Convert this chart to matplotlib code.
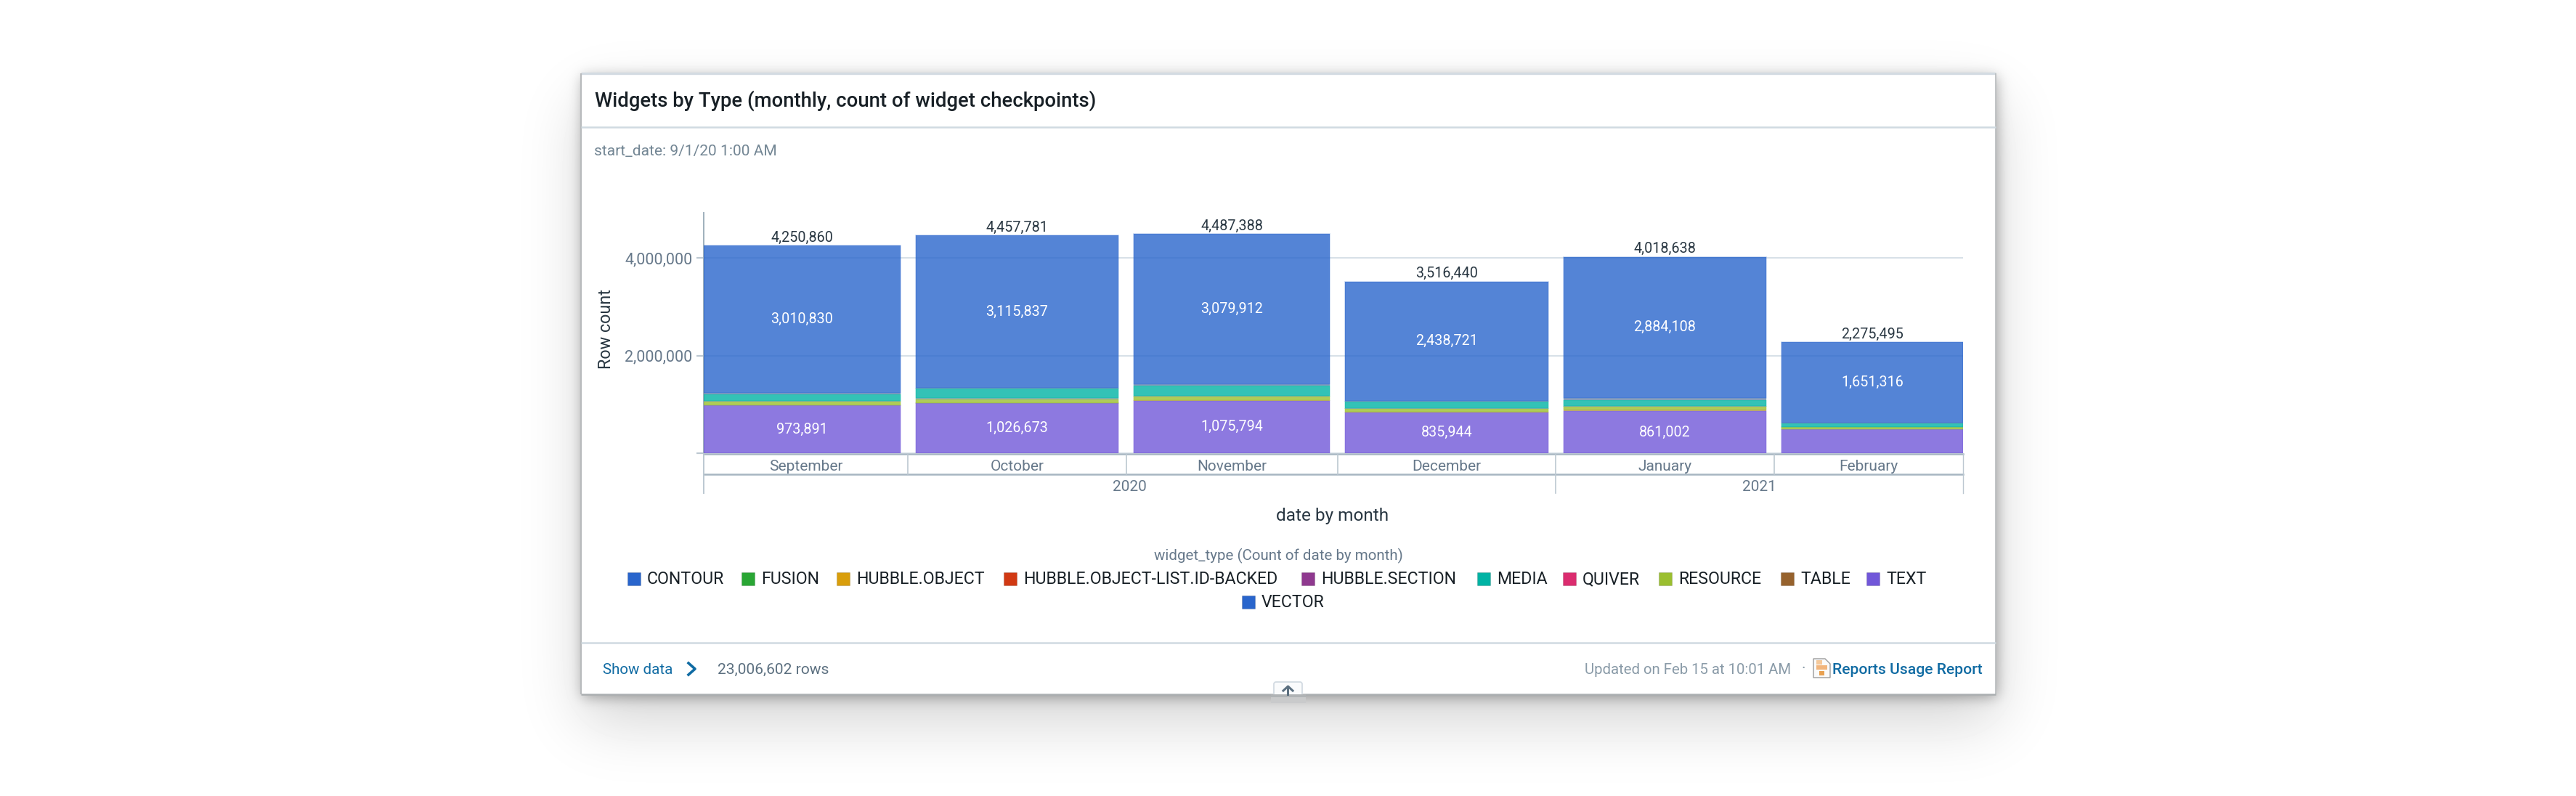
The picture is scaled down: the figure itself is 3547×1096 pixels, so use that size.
import math
import numpy as np
import pandas as pd
import matplotlib
matplotlib.use("Agg")
import matplotlib.pyplot as plt
import matplotlib.dates as mdates
import matplotlib.transforms as mtrans
from matplotlib.patches import Rectangle, Polygon, FancyBboxPatch
from matplotlib.colors import to_rgba

plt.rcParams['font.family'] = ['Roboto', 'DejaVu Sans']

# ---------- data ----------
months = ["September", "October", "November", "December", "January", "February"]
month_starts = ["2020-09-01", "2020-10-01", "2020-11-01", "2020-12-01", "2021-01-01", "2021-02-01", "2021-03-01"]
years = ["2020", "2021"]
year_bounds = ["2020-09-02 00:00", "2021-01-01 00:00", "2021-02-27 20:00"]

widget_types = ["CONTOUR", "FUSION", "HUBBLE.OBJECT", "HUBBLE.OBJECT-LIST.ID-BACKED", "HUBBLE.SECTION",
                "MEDIA", "QUIVER", "RESOURCE", "TABLE", "TEXT", "VECTOR"]
colors = ["#2965CC", "#29A634", "#D99E0B", "#D13913", "#8F398F", "#00B3A4",
          "#DB2C6F", "#9BBF30", "#96622D", "#7157D9", "#2965CC"]
# thin slivers read as muted grey bands where their neighbours' strokes overlap them
sliver_colors = {"HUBBLE.SECTION": "#6E8AAE", "QUIVER": "#7F9F9A", "TABLE": "#B09A50"}

contour = [3010830, 3115837, 3079912, 2438721, 2884108, 1651316]
fusion = [500, 500, 600, 500, 500, 500]
hubble_object = [500, 500, 600, 500, 500, 500]
hubble_list = [639, 771, 882, 775, 1028, 679]
hubble_section = [28000, 20000, 20000, 18000, 46000, 8000]
media = [134000, 195000, 208000, 140000, 122000, 72000]
quiver = [25000, 20000, 20000, 15000, 15000, 5000]
resource = [72000, 73000, 76000, 62000, 50000, 48000]
table = [5000, 5000, 5000, 4500, 38000, 4000]
text_vals = [973891, 1026673, 1075794, 835944, 861002, 485000]
vector = [500, 500, 600, 500, 500, 500]

y_ticks = [0, 2000000, 4000000]
y_top = 4922000

series_by_type = {"VECTOR": vector, "TEXT": text_vals, "TABLE": table, "RESOURCE": resource,
                  "QUIVER": quiver, "MEDIA": media, "HUBBLE.SECTION": hubble_section,
                  "HUBBLE.OBJECT-LIST.ID-BACKED": hubble_list, "HUBBLE.OBJECT": hubble_object,
                  "FUSION": fusion, "CONTOUR": contour}
label_min = {"CONTOUR": 0, "TEXT": 500000}

# ---------- layout ----------
W, H = 3548, 1096
fig = plt.figure(figsize=(W / 100, H / 100), dpi=100, facecolor="white")
bg = fig.add_axes([0, 0, 1, 1], zorder=0)
bg.set_xlim(0, W)
bg.set_ylim(H, 0)
bg.axis("off")

# shadow
L, R, T, B = 800, 2748, 101, 956
Phi = np.vectorize(lambda v: 0.5 * (1 + math.erf(v / math.sqrt(2))))
xs, ys = np.arange(0, W, 4.0), np.arange(0, H, 4.0)


def blur(a, b, offs, sigma):
    fx = Phi((xs - a) / sigma) - Phi((xs - b) / sigma)
    fy = Phi((ys - (T + offs)) / sigma) - Phi((ys - (B + offs)) / sigma)
    return np.outer(fy, fx)


shade = 0.17 * blur(L, R, 36, 42) + 0.30 * blur(L, R, 2, 9)
bg.imshow(np.clip(1 - shade, 0, 1), cmap="gray", vmin=0, vmax=1, extent=(0, W, H, 0),
          aspect="auto", interpolation="bilinear", zorder=0)
bg.set_xlim(0, W)
bg.set_ylim(H, 0)

bg.add_patch(Rectangle((L, T), R - L, B - T, fc="white", ec="none", zorder=1))
bg.plot([L, R], [T, T], color="#D3DBE2", lw=2.4, zorder=2, solid_capstyle="butt")
bg.plot([L, L], [T, B], color="#B8BBBD", lw=1.6, zorder=2, solid_capstyle="butt")
bg.plot([R, R], [T, B], color="#B8BBBD", lw=1.2, zorder=2, solid_capstyle="butt")
bg.plot([L, R], [B, B], color="#ABAFB1", lw=1.8, zorder=2, solid_capstyle="butt")
for yy in (175, 885):
    bg.plot([L, R], [yy, yy], color="#D0DAE1", lw=1.8, zorder=2, solid_capstyle="butt")

# main axes
AX_L, AX_R, AX_T, AX_B = 969, 2703, 293, 624
ax = fig.add_axes([AX_L / W, 1 - AX_B / H, (AX_R - AX_L) / W, (AX_B - AX_T) / H], zorder=2)
ax.patch.set_alpha(0)
edges = mdates.date2num(pd.to_datetime(month_starts))
ybound = mdates.date2num(pd.to_datetime(year_bounds))
xlo, xhi = ybound[0], ybound[-1]
ax.set_xlim(xlo, xhi)
ax.set_ylim(0, y_top)
for s in ("top", "right", "bottom"):
    ax.spines[s].set_visible(False)
ax.spines["left"].set_color("#9FB0BC")
ax.spines["left"].set_linewidth(1.4)
ax.set_xticks([])
ax.set_yticks(y_ticks)
ax.set_yticklabels([""] + [f"{v:,}" for v in y_ticks[1:]], fontsize=15.5, color="#66788A")
ax.tick_params(axis="y", length=7, width=1.6, color="#BCC8D1", pad=4)
ax.grid(axis="y", color="#D8E1E8", lw=1.5, zorder=0)
ax.set_axisbelow(True)

pad = 1.07
lefts = edges[:-1] + pad
rights = np.minimum(edges[1:] - pad, xhi)
lefts[0] = xlo
widths = rights - lefts
centers = lefts + widths / 2

bottom = np.zeros(len(months))
order = ["VECTOR", "TEXT", "TABLE", "RESOURCE", "QUIVER", "MEDIA", "HUBBLE.SECTION",
         "HUBBLE.OBJECT-LIST.ID-BACKED", "HUBBLE.OBJECT", "FUSION", "CONTOUR"]
stroked = {"TEXT", "MEDIA", "RESOURCE", "CONTOUR"}
for name in order:
    vals = np.array(series_by_type[name], dtype=float)
    c = sliver_colors.get(name, colors[widget_types.index(name)])
    ax.bar(lefts, vals, widths, bottom=bottom, align="edge", color=to_rgba(c, 0.8),
           edgecolor=to_rgba(c, 0.3) if name in stroked else "none",
           linewidth=1.1, zorder=3)
    if name in label_min:
        for cx, b, v in zip(centers, bottom, vals):
            if v >= label_min[name]:
                ax.text(cx, b + v / 2, f"{int(v):,}", ha="center", va="center", color="white",
                        fontsize=14.2, zorder=5)
    bottom += vals
for cx, tot in zip(centers, bottom):
    ax.annotate(f"{int(tot):,}", (cx, tot), xytext=(0, 11 * 0.72), textcoords="offset points",
                ha="center", va="center", color="#293742", fontsize=14.2, zorder=5,
                annotation_clip=False)

# multi-level x axis
tr = mtrans.blended_transform_factory(ax.transData, bg.transData)
YA, Y1, Y2 = 625, 653, 679
AXC, TICKC = "#A7B6C2", "#BCC8D1"
ax.plot([xlo, xhi], [YA, YA], transform=tr, color=AXC, lw=1.8, clip_on=False, zorder=6)
ax.plot([xlo, xhi], [Y1, Y1], transform=tr, color=AXC, lw=1.8, clip_on=False, zorder=6)
ax.plot([xlo, xlo], [YA, Y2], transform=tr, color=TICKC, lw=1.4, clip_on=False, zorder=6)
ax.plot([xhi, xhi], [YA, Y2], transform=tr, color=TICKC, lw=1.0, clip_on=False, zorder=6)
for e in edges[1:-1]:
    ax.plot([e, e], [YA, Y1], transform=tr, color=TICKC, lw=1.2, clip_on=False, zorder=6)
ax.plot([ybound[1]] * 2, [Y1, Y2], transform=tr, color=TICKC, lw=1.2, clip_on=False, zorder=6)
for i, m in enumerate(months):
    a, b = max(edges[i], xlo), min(edges[i + 1], xhi)
    ax.text((a + b) / 2, 642, m, transform=tr, ha="center", va="center", fontsize=15, color="#66788A")
for i, y in enumerate(years):
    ax.text((ybound[i] + ybound[i + 1]) / 2, 670, y, transform=tr, ha="center", va="center",
            fontsize=15, color="#66788A")

# texts in pixel coordinates
bg.text(819, 139, "Widgets by Type (monthly, count of widget checkpoints)", fontsize=19.8,
        fontweight="medium", color="#182026", va="center", zorder=4)
bg.text(818, 208, "start_date: 9/1/20 1:00 AM", fontsize=15.1, color="#738694", va="center", zorder=4)
bg.text(835, 453, "Row count", rotation=90, fontsize=16.8, color="#293742", ha="center", va="center", zorder=4)
bg.text(1835, 710, "date by month", fontsize=17.6, color="#293742", ha="center", va="center", zorder=4)
bg.text(1760, 765, "widget_type (Count of date by month)", fontsize=14.8, color="#66788A",
        ha="center", va="center", zorder=4)

# legend
legend_x = [864, 1021, 1152, 1382, 1792, 2034, 2152, 2284, 2452, 2570, 1710]
legend_y = [797] * 10 + [829]
for name, c, x, y in zip(widget_types, colors, legend_x, legend_y):
    bg.add_patch(Rectangle((x, y - 9), 18, 18, fc=c, ec=to_rgba("#000000", 0.12), lw=0.8, zorder=4))
    bg.text(x + 27, y + 1, name, fontsize=16.7, color="#182026", va="center", zorder=4)

# footer
bg.text(830, 922, "Show data", fontsize=14.8, color="#106BA3", va="center", zorder=4)
bg.plot([948, 957, 948], [913, 921, 929], color="#106BA3", lw=2.6, zorder=4)
bg.text(988, 922, "23,006,602 rows", fontsize=15.1, color="#5C7080", va="center", zorder=4)
bg.text(2182, 922, "Updated on Feb 15 at 10:01 AM", fontsize=14.7, color="#8A9BA8", va="center", zorder=4)
bg.text(2483, 921, "·", fontsize=15, color="#8A9BA8", ha="center", va="center", zorder=4)
# report icon
bg.add_patch(Polygon([(2497, 907), (2513, 907), (2520, 914), (2520, 933), (2497, 933)], closed=True,
                     fc="#FAFAFA", ec="#9A9A9A", lw=1.0, zorder=4))
bg.add_patch(Rectangle((2501, 909), 8, 6, fc="#F4C89A", ec="none", zorder=5))
bg.add_patch(Rectangle((2501, 916), 15, 6, fc="#F2B57C", ec="none", zorder=5))
bg.add_patch(Rectangle((2505, 924), 7, 6, fc="#E8A050", ec="none", zorder=5))
bg.text(2523, 922, "Reports Usage Report", fontsize=15.2, fontweight="medium", color="#106BA3",
        va="center", zorder=4)
# collapse tab
bg.add_patch(FancyBboxPatch((1754, 939), 39, 20, boxstyle="round,pad=0,rounding_size=3", fc="#FAFBFC",
                            ec="#D3DBE2", lw=1.3, zorder=3))
bg.add_patch(Rectangle((1750, 956), 48, 4, fc="#B0B3B5", ec="none", zorder=3.5))
bg.add_patch(Rectangle((1750, 959.5), 48, 8, fc="#C9CACB", ec="none", zorder=3.2))
bg.plot([1773.5, 1773.5], [945, 956], color="#5C7080", lw=2.2, zorder=4)
bg.plot([1767, 1773.5, 1780], [951, 945, 951], color="#5C7080", lw=2.2, zorder=4)

fig.savefig("out.png", dpi=100, facecolor="white")
